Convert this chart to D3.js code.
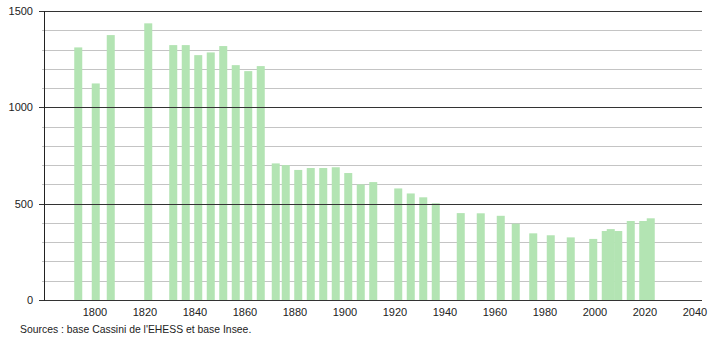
<!DOCTYPE html>
<html>
<head>
<meta charset="utf-8">
<script src="https://cdn.jsdelivr.net/npm/d3@7"></script>
<style>
  body { margin: 0; background: #fff; }
  text { font-family: "Liberation Sans", Arial, sans-serif; font-size: 11px; fill: #222; }
</style>
</head>
<body>
<div id="chart"></div>
<script>
const years = [1793, 1800, 1806, 1821, 1831, 1836, 1841, 1846, 1851, 1856, 1861, 1866,
    1872, 1876, 1881, 1886, 1891, 1896, 1901, 1906, 1911, 1921, 1926, 1931, 1936,
    1946, 1954, 1962, 1968, 1975, 1982, 1990, 1999, 2004, 2006, 2009, 2014, 2019, 2022];
const population = [1311, 1124, 1375, 1436, 1323, 1323, 1271, 1285, 1318, 1219, 1188, 1214,
    709, 700, 675, 685, 685, 689, 659, 600, 612, 579, 553, 533, 502,
    451, 450, 437, 396, 346, 336, 325, 317, 358, 368, 358, 410, 410, 424];
const xTicks = [1800, 1820, 1840, 1860, 1880, 1900, 1920, 1940, 1960, 1980, 2000, 2020, 2040];
const yMajor = [0, 500, 1000, 1500];
const yMinor = d3.range(100, 1500, 100).filter(v => v % 500 !== 0);

const width = 710, height = 340;
const svg = d3.select('#chart').append('svg')
    .attr('width', width)
    .attr('height', height);

const x = d3.scaleLinear().domain([1780, 2043]).range([45, 702.5]);
const y = d3.scaleLinear().domain([0, 1500]).range([300, 11]);

// minor grid
svg.selectAll('.minor')
    .data(yMinor)
    .enter().append('line')
    .attr('x1', 42).attr('x2', 702)
    .attr('y1', d => Math.round(y(d)) + 0.5).attr('y2', d => Math.round(y(d)) + 0.5)
    .attr('stroke', '#c4c4c4');

// bars
const data = years.map((yr, i) => ({ year: yr, value: population[i] }));
svg.selectAll('.bar')
    .data(data)
    .enter().append('rect')
    .attr('class', 'bar')
    .attr('x', d => x(d.year + 0.3) - 4)
    .attr('y', d => y(d.value))
    .attr('width', 8)
    .attr('height', d => y(0) - y(d.value))
    .attr('fill', '#b3e4b3');

// major grid
svg.selectAll('.major')
    .data(yMajor)
    .enter().append('line')
    .attr('x1', 39).attr('x2', 702)
    .attr('y1', d => Math.round(y(d)) + 0.5).attr('y2', d => Math.round(y(d)) + 0.5)
    .attr('stroke', '#333');

// y axis line
svg.append('line')
    .attr('x1', 44.5).attr('x2', 44.5)
    .attr('y1', y(1500)).attr('y2', y(0) + 0.5)
    .attr('stroke', '#222');

svg.selectAll('.ylab')
    .data(yMajor)
    .enter().append('text')
    .attr('x', 33)
    .attr('y', d => y(d) + 4)
    .attr('text-anchor', 'end')
    .text(d => d);

svg.selectAll('.xlab')
    .data(xTicks)
    .enter().append('text')
    .attr('x', d => x(d))
    .attr('y', 316)
    .attr('text-anchor', 'middle')
    .text(d => d);

svg.append('text')
    .attr('x', 20)
    .attr('y', 333)
    .style('font-size', '10.4px')
    .text("Sources : base Cassini de l'EHESS et base Insee.");
</script>
</body>
</html>
